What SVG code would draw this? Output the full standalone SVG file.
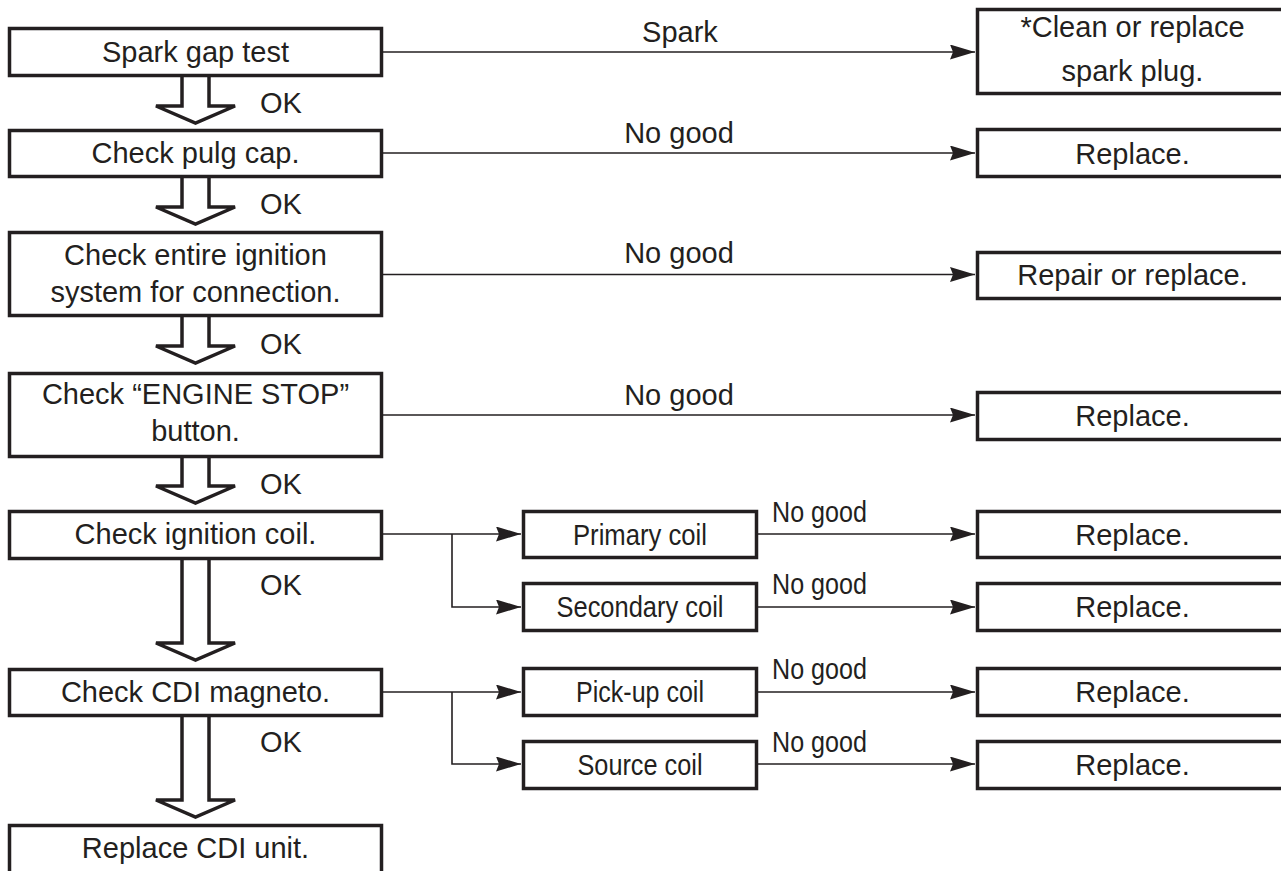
<svg xmlns="http://www.w3.org/2000/svg" width="1281" height="871" viewBox="0 0 1281 871">
<style>
.box{fill:#fff;stroke:#231f20;stroke-width:3.5}
.blk{fill:#fff;stroke:#231f20;stroke-width:3.5;stroke-linejoin:miter}
.ln{fill:none;stroke:#231f20;stroke-width:1.6}
.t{font-family:"Liberation Sans",Arial,Helvetica,sans-serif;font-size:29px;fill:#231f20}
.c{text-anchor:middle}
</style>
<defs>
<marker id="ah" markerUnits="userSpaceOnUse" markerWidth="26" markerHeight="16" refX="25" refY="7.5" orient="auto">
<path d="M0,0 L25,7.5 L0,15 L3,7.5 Z" fill="#231f20"/>
</marker>
</defs>
<rect width="1281" height="871" fill="#fff"/>

<g id="connectors">
<line class="ln" x1="383" y1="52" x2="975" y2="52" marker-end="url(#ah)"/>
<line class="ln" x1="383" y1="153" x2="975" y2="153" marker-end="url(#ah)"/>
<line class="ln" x1="383" y1="274.5" x2="975" y2="274.5" marker-end="url(#ah)"/>
<line class="ln" x1="383" y1="415" x2="975" y2="415" marker-end="url(#ah)"/>
<line class="ln" x1="383" y1="534" x2="521" y2="534" marker-end="url(#ah)"/>
<polyline class="ln" points="452,534 452,607 521,607" marker-end="url(#ah)"/>
<line class="ln" x1="758" y1="534" x2="975" y2="534" marker-end="url(#ah)"/>
<line class="ln" x1="758" y1="607" x2="975" y2="607" marker-end="url(#ah)"/>
<line class="ln" x1="383" y1="692" x2="521" y2="692" marker-end="url(#ah)"/>
<polyline class="ln" points="452,692 452,764 521,764" marker-end="url(#ah)"/>
<line class="ln" x1="758" y1="692" x2="975" y2="692" marker-end="url(#ah)"/>
<line class="ln" x1="758" y1="764" x2="975" y2="764" marker-end="url(#ah)"/>
<text class="t c" x="680" y="42">Spark</text>
<text class="t c" x="679" y="143">No good</text>
<text class="t c" x="679" y="263">No good</text>
<text class="t c" x="679" y="405">No good</text>
<text class="t" x="772" y="522" textLength="95" lengthAdjust="spacingAndGlyphs">No good</text>
<text class="t" x="772" y="594" textLength="95" lengthAdjust="spacingAndGlyphs">No good</text>
<text class="t" x="772" y="679" textLength="95" lengthAdjust="spacingAndGlyphs">No good</text>
<text class="t" x="772" y="752" textLength="95" lengthAdjust="spacingAndGlyphs">No good</text>
</g>

<g id="ok-arrows">
<path class="blk" d="M182,77 L182,106 L156,106 L195.5,123 L235,106 L209,106 L209,77"/>
<text class="t" x="260" y="113">OK</text>
<path class="blk" d="M182,178 L182,207 L156,207 L195.5,224 L235,207 L209,207 L209,178"/>
<text class="t" x="260" y="214">OK</text>
<path class="blk" d="M182,317 L182,346 L156,346 L195.5,363 L235,346 L209,346 L209,317"/>
<text class="t" x="260" y="354">OK</text>
<path class="blk" d="M182,458 L182,486 L156,486 L195.5,503 L235,486 L209,486 L209,458"/>
<text class="t" x="260" y="494">OK</text>
<path class="blk" d="M182,560 L182,643 L156,643 L195.5,660 L235,643 L209,643 L209,560"/>
<text class="t" x="260" y="595">OK</text>
<path class="blk" d="M182,717 L182,800 L156,800 L195.5,817 L235,800 L209,800 L209,717"/>
<text class="t" x="260" y="752">OK</text>
</g>

<g id="n-spark-gap">
<rect class="box" x="9.5" y="28.5" width="372" height="47"/>
<text class="t c" x="195.5" y="62">Spark gap test</text>
</g>
<g id="n-plug-cap">
<rect class="box" x="9.5" y="130.5" width="372" height="46"/>
<text class="t c" x="195.5" y="163">Check pulg cap.</text>
</g>
<g id="n-entire">
<rect class="box" x="9.5" y="232.5" width="372" height="83"/>
<text class="t c" x="195.5" y="265">Check entire ignition</text>
<text class="t c" x="195.5" y="302">system for connection.</text>
</g>
<g id="n-engine-stop">
<rect class="box" x="9.5" y="373.5" width="372" height="83"/>
<text class="t c" x="195.5" y="404">Check “ENGINE STOP”</text>
<text class="t c" x="195.5" y="441">button.</text>
</g>
<g id="n-ign-coil">
<rect class="box" x="9.5" y="511.5" width="372" height="47"/>
<text class="t c" x="195.5" y="544">Check ignition coil.</text>
</g>
<g id="n-cdi-magneto">
<rect class="box" x="9.5" y="669.5" width="372" height="46"/>
<text class="t c" x="195.5" y="702">Check CDI magneto.</text>
</g>
<g id="n-replace-cdi">
<rect class="box" x="9.5" y="825.5" width="372" height="60"/>
<text class="t c" x="195.5" y="858">Replace CDI unit.</text>
</g>

<g id="n-primary">
<rect class="box" x="523.5" y="511.5" width="233" height="46"/>
<text class="t c" x="640" y="545" textLength="134" lengthAdjust="spacingAndGlyphs">Primary coil</text>
</g>
<g id="n-secondary">
<rect class="box" x="523.5" y="583.5" width="233" height="47"/>
<text class="t c" x="640" y="617" textLength="167" lengthAdjust="spacingAndGlyphs">Secondary coil</text>
</g>
<g id="n-pickup">
<rect class="box" x="523.5" y="668.5" width="233" height="47"/>
<text class="t c" x="640" y="702" textLength="128" lengthAdjust="spacingAndGlyphs">Pick-up coil</text>
</g>
<g id="n-source">
<rect class="box" x="523.5" y="741.5" width="233" height="47"/>
<text class="t c" x="640" y="775" textLength="125" lengthAdjust="spacingAndGlyphs">Source coil</text>
</g>

<g id="r-clean">
<rect class="box" x="977.5" y="9.5" width="330" height="84"/>
<text class="t c" x="1132.5" y="37">*Clean or replace</text>
<text class="t c" x="1132.5" y="81">spark plug.</text>
</g>
<g id="r-replace-1">
<rect class="box" x="977.5" y="129.5" width="330" height="47"/>
<text class="t c" x="1132.5" y="164">Replace.</text>
</g>
<g id="r-repair">
<rect class="box" x="977.5" y="252.5" width="330" height="46"/>
<text class="t c" x="1132.5" y="285">Repair or replace.</text>
</g>
<g id="r-replace-2">
<rect class="box" x="977.5" y="392.5" width="330" height="47"/>
<text class="t c" x="1132.5" y="426">Replace.</text>
</g>
<g id="r-replace-3">
<rect class="box" x="977.5" y="511.5" width="330" height="46"/>
<text class="t c" x="1132.5" y="545">Replace.</text>
</g>
<g id="r-replace-4">
<rect class="box" x="977.5" y="583.5" width="330" height="47"/>
<text class="t c" x="1132.5" y="617">Replace.</text>
</g>
<g id="r-replace-5">
<rect class="box" x="977.5" y="668.5" width="330" height="47"/>
<text class="t c" x="1132.5" y="702">Replace.</text>
</g>
<g id="r-replace-6">
<rect class="box" x="977.5" y="741.5" width="330" height="47"/>
<text class="t c" x="1132.5" y="775">Replace.</text>
</g>
</svg>
